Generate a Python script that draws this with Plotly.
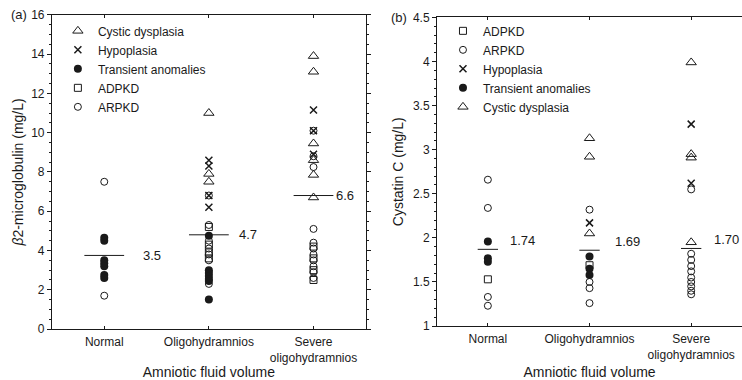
import plotly.graph_objects as go

# ---------------- data ----------------
categories = ["Normal", "Oligohydramnios", "Severe<br>oligohydramnios"]

# Panel (a): beta2-microglobulin (mg/L), per category [Normal, Oligo, Severe]
b2m_cystic = [[], [11.0, 7.9, 7.5], [13.9, 13.1, 9.45, 8.6, 7.85, 6.7]]
b2m_hypoplasia = [[], [8.6, 8.3, 6.8, 6.2], [11.15, 10.1, 8.9]]
b2m_transient = [[4.65, 4.5, 3.5, 3.35, 3.2, 2.75, 2.6],
                 [4.75, 3.0, 2.85, 2.7, 2.55, 2.45, 1.5], []]
b2m_adpkd = [[], [5.2, 4.3, 3.9, 3.6], [4.2, 3.6, 3.0, 2.5]]
b2m_arpkd = [[7.5, 1.7], [6.8, 5.3, 4.5, 4.1, 3.8, 3.5, 2.3],
             [10.1, 8.8, 8.25, 5.1, 4.4, 4.1, 3.8, 3.5, 3.2, 2.9, 2.6]]
b2m_line = [3.75, 4.8, 6.8]
b2m_labels = ["3.5", "4.7", "6.6"]

# Panel (b): cystatin C (mg/L)
cys_adpkd = [[1.53], [1.69], []]
cys_arpkd = [[2.66, 2.34, 1.33, 1.23], [2.32, 1.5, 1.43, 1.26],
             [2.55, 1.82, 1.75, 1.68, 1.62, 1.55, 1.5, 1.45, 1.4, 1.36]]
cys_hypoplasia = [[], [2.17], [3.29, 2.62]]
cys_transient = [[1.96, 1.77, 1.73], [1.79, 1.65, 1.58], []]
cys_cystic = [[], [3.13, 2.92, 2.05], [3.99, 2.95, 2.91, 1.95]]
cys_line = [1.87, 1.86, 1.88]
cys_labels = ["1.74", "1.69", "1.70"]

# ---------------- styles ----------------
FONT = "Liberation Sans, Arial, sans-serif"
INK = "#1a1a1a"
styles = {
    "Cystic dysplasia": dict(symbol="triangle-up-open", size=9, line=dict(width=1, color=INK), color=INK),
    "Hypoplasia": dict(symbol="x-thin-open", size=7, line=dict(width=1.5, color=INK), color=INK),
    "Transient anomalies": dict(symbol="circle", size=8, color=INK, line=dict(width=0, color=INK)),
    "ADPKD": dict(symbol="square-open", size=7, line=dict(width=1, color=INK), color=INK),
    "ARPKD": dict(symbol="circle-open", size=7, line=dict(width=1, color=INK), color=INK),
}


def expand(groups):
    xs, ys = [], []
    for i, vals in enumerate(groups):
        xs += [i + 1] * len(vals)
        ys += vals
    return xs, ys


fig = go.Figure()

left_series = [("Cystic dysplasia", b2m_cystic), ("Hypoplasia", b2m_hypoplasia),
               ("Transient anomalies", b2m_transient), ("ADPKD", b2m_adpkd), ("ARPKD", b2m_arpkd)]
right_series = [("ADPKD", cys_adpkd), ("ARPKD", cys_arpkd), ("Hypoplasia", cys_hypoplasia),
                ("Transient anomalies", cys_transient), ("Cystic dysplasia", cys_cystic)]

for name, groups in left_series:
    x, y = expand(groups)
    fig.add_trace(go.Scatter(x=x, y=y, mode="markers", name=name, marker=styles[name],
                             xaxis="x", yaxis="y", legend="legend"))
for name, groups in right_series:
    x, y = expand(groups)
    fig.add_trace(go.Scatter(x=x, y=y, mode="markers", name=name, marker=styles[name],
                             xaxis="x2", yaxis="y2", legend="legend2"))

# median lines
for i, v in enumerate(b2m_line):
    fig.add_trace(go.Scatter(x=[i + 1 - 0.19, i + 1 + 0.19], y=[v, v], mode="lines",
                             line=dict(color=INK, width=1), showlegend=False,
                             xaxis="x", yaxis="y", hoverinfo="skip"))
for i, v in enumerate(cys_line):
    fig.add_trace(go.Scatter(x=[i + 1 - 0.1, i + 1 + 0.1], y=[v, v], mode="lines",
                             line=dict(color=INK, width=1), showlegend=False,
                             xaxis="x2", yaxis="y2", hoverinfo="skip"))

annotations = []
left_offsets = [0.35, 0.27, 0.2]
for i, (v, lab) in enumerate(zip(b2m_line, b2m_labels)):
    annotations.append(dict(x=i + 1 + left_offsets[i], y=v, xref="x", yref="y", text=lab,
                            showarrow=False, xanchor="left", yanchor="middle",
                            font=dict(size=13, color=INK, family=FONT)))
right_offsets = [0.2, 0.23, 0.2]
for i, (v, lab) in enumerate(zip(cys_line, cys_labels)):
    annotations.append(dict(x=i + 1 + right_offsets[i], y=v, xref="x2", yref="y2", text=lab,
                            showarrow=False, xanchor="left", yanchor="middle", yshift=9,
                            font=dict(size=13, color=INK, family=FONT)))
annotations.append(dict(x=0.012, y=0.961, xref="paper", yref="paper", text="(a)", showarrow=False,
                        xanchor="left", yanchor="middle", font=dict(size=13, color=INK, family=FONT)))
annotations.append(dict(x=0.524, y=0.955, xref="paper", yref="paper", text="(b)", showarrow=False,
                        xanchor="left", yanchor="middle", font=dict(size=13, color=INK, family=FONT)))

axis_common = dict(showline=True, linecolor=INK, linewidth=1, mirror="ticks", showgrid=False,
                   zeroline=False, tickfont=dict(size=12, color=INK, family=FONT),
                   tickcolor=INK, automargin=False)

xcommon = dict(axis_common, range=[0.5, 3.5], tickvals=[1, 2, 3], ticktext=categories,
               ticks="inside", ticklen=3, ticklabelstandoff=2,
               title=dict(text="Amniotic fluid volume", font=dict(size=14, color=INK, family=FONT),
                          standoff=6))

fig.update_layout(
    width=742, height=380,
    margin=dict(l=0, r=0, t=0, b=0),
    paper_bgcolor="white", plot_bgcolor="white",
    font=dict(family=FONT, color=INK),
    xaxis=dict(xcommon, domain=[0.070, 0.493], anchor="y"),
    yaxis=dict(axis_common, domain=[0.134, 0.961], anchor="x", range=[0, 16], dtick=2,
               ticks="outside", ticklen=4,
               minor=dict(dtick=0.5, ticks="outside", ticklen=2, tickcolor=INK),
               title=dict(text="<i>β</i>2-microglobulin (mg/L)",
                          font=dict(size=14, color=INK, family=FONT), standoff=4)),
    xaxis2=dict(xcommon, domain=[0.589, 1.0], anchor="y2"),
    yaxis2=dict(axis_common, domain=[0.142, 0.954], anchor="x2", range=[1, 4.5], dtick=0.5,
                ticks="outside", ticklen=4,
                minor=dict(dtick=0.1, ticks="outside", ticklen=2, tickcolor=INK),
                title=dict(text="Cystatin C (mg/L)",
                           font=dict(size=14, color=INK, family=FONT), standoff=6)),
    legend=dict(x=0.078, y=0.957, xanchor="left", yanchor="top", bgcolor="rgba(0,0,0,0)",
                font=dict(size=12, color=INK, family=FONT), tracegroupgap=0, itemwidth=30),
    legend2=dict(x=0.597, y=0.957, xanchor="left", yanchor="top", bgcolor="rgba(0,0,0,0)",
                 font=dict(size=12, color=INK, family=FONT), tracegroupgap=0, itemwidth=30),
    annotations=annotations,
    showlegend=True,
)

fig.write_html("out.html")
